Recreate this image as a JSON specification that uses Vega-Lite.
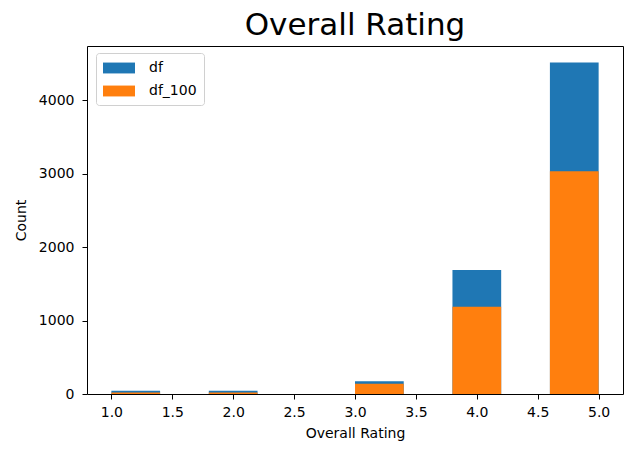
{
  "$schema": "https://vega.github.io/schema/vega-lite/v6.json",
  "width": 536,
  "height": 348,
  "autosize": {"type": "none"},
  "padding": {"left": 87, "top": 46, "right": 17, "bottom": 66},
  "background": "white",
  "title": {
    "text": "Overall Rating",
    "fontSize": 31,
    "font": "DejaVu Sans",
    "fontWeight": "normal",
    "color": "#000000",
    "anchor": "middle",
    "baseline": "alphabetic",
    "offset": -20
  },
  "data": {
    "values": [
      {"series": "df", "start": 1.0, "end": 1.4, "count": 45},
      {"series": "df", "start": 1.8, "end": 2.2, "count": 45},
      {"series": "df", "start": 3.0, "end": 3.4, "count": 175},
      {"series": "df", "start": 3.8, "end": 4.2, "count": 1687},
      {"series": "df", "start": 4.6, "end": 5.0, "count": 4513},
      {"series": "df_100", "start": 1.0, "end": 1.4, "count": 22},
      {"series": "df_100", "start": 1.8, "end": 2.2, "count": 22},
      {"series": "df_100", "start": 3.0, "end": 3.4, "count": 140},
      {"series": "df_100", "start": 3.8, "end": 4.2, "count": 1188},
      {"series": "df_100", "start": 4.6, "end": 5.0, "count": 3034}
    ]
  },
  "mark": {"type": "bar", "strokeWidth": 0},
  "encoding": {
    "x": {
      "field": "start",
      "type": "quantitative",
      "scale": {"domain": [0.8, 5.2], "nice": false, "zero": false},
      "axis": {
        "title": "Overall Rating",
        "values": [1, 1.5, 2, 2.5, 3, 3.5, 4, 4.5, 5],
        "format": ".1f",
        "labelPadding": 6,
        "titlePadding": 7
      }
    },
    "x2": {"field": "end"},
    "y": {
      "field": "count",
      "type": "quantitative",
      "stack": null,
      "scale": {"domain": [0, 4739], "nice": false},
      "axis": {
        "title": "Count",
        "values": [0, 1000, 2000, 3000, 4000],
        "format": "d",
        "labelPadding": 8,
        "titlePadding": 10
      }
    },
    "y2": {"datum": 0},
    "color": {
      "field": "series",
      "type": "nominal",
      "scale": {"domain": ["df", "df_100"], "range": ["#1f77b4", "#ff7f0e"]},
      "legend": {
        "title": null,
        "orient": "none",
        "legendX": 9,
        "legendY": 7,
        "symbolType": "M-1,-0.68H3V0.68H-1Z",
        "symbolSize": 256,
        "symbolStrokeWidth": 0,
        "symbolOpacity": 1,
        "labelOffset": 30,
        "labelFontSize": 14,
        "labelFont": "DejaVu Sans",
        "labelColor": "#000000",
        "rowPadding": 8,
        "padding": 7,
        "strokeColor": "#d0d0d0",
        "fillColor": "white",
        "cornerRadius": 3
      }
    }
  },
  "config": {
    "view": {"stroke": "#000000", "strokeWidth": 1},
    "axis": {
      "domain": false,
      "grid": false,
      "tickColor": "#000000",
      "tickSize": 5,
      "tickWidth": 1,
      "labelFont": "DejaVu Sans",
      "labelFontSize": 14,
      "labelColor": "#000000",
      "titleFont": "DejaVu Sans",
      "titleFontSize": 14,
      "titleFontWeight": "normal",
      "titleColor": "#000000"
    }
  }
}
